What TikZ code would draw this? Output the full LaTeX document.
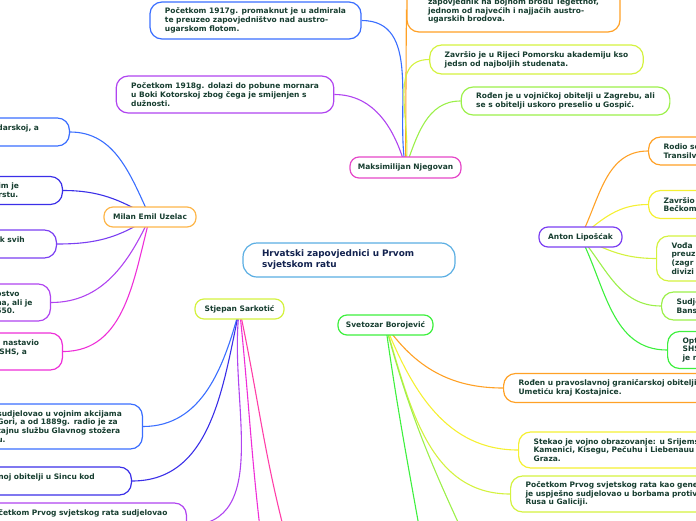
\documentclass[tikz,border=0pt]{standalone}
\usepackage{fontspec}
\setmainfont{DejaVu Sans}
\usetikzlibrary{backgrounds}

\definecolor{leaftext}{HTML}{173E30}
\definecolor{titletext}{HTML}{12224F}
\definecolor{titleline}{HTML}{5AAEE3}
\definecolor{cblue}{HTML}{3A6EFF}
\definecolor{cindigo}{HTML}{3B2FE8}
\definecolor{cviolet}{HTML}{7B3FF2}
\definecolor{cpurple}{HTML}{B044F0}
\definecolor{cmagenta}{HTML}{EE2FD8}
\definecolor{cpink}{HTML}{FF3FA8}
\definecolor{corange}{HTML}{FFA126}
\definecolor{cpeach}{HTML}{FDB64A}
\definecolor{cyellow}{HTML}{F5F032}
\definecolor{cyelgreen}{HTML}{D4F23F}
\definecolor{clime}{HTML}{9CF04A}
\definecolor{cgreen}{HTML}{3EF03E}
\definecolor{cnjeg}{HTML}{E547C8}

\begin{document}
\begin{tikzpicture}[x=1pt, y=1pt,
    leaf/.style={draw=#1, fill=white, line width=1.2pt, rounded corners=12pt, align=left, inner xsep=15pt, inner ysep=0pt, text=leaftext, font=\fontsize{7.5}{8.8}\selectfont\bfseries},
    topic/.style={draw=#1, fill=white, line width=1.2pt, rounded corners=9pt, minimum height=20pt, inner sep=0pt, text=leaftext, font=\fontsize{7.5}{8.8}\selectfont\bfseries},
    branch/.style={draw=#1, line width=1.1pt}
]
    \useasboundingbox (0,0) rectangle (696,-520);

    % Central topic
    \node[draw=titleline, fill=white, line width=1.2pt, rounded corners=14pt, align=left, text width=174pt, inner xsep=19pt, minimum height=34pt, text=titletext, font=\fontsize{8.9}{11}\selectfont\bfseries] (title) at (349,-260) {Hrvatski zapovjednici u Prvom\\svjetskom ratu};

    % Main topics
    \node[topic=cnjeg, minimum width=111pt, minimum height=21pt] (njegovan) at (405.5,-167.5) {Maksimilijan Njegovan};
    \node[topic=cpeach, minimum width=92pt] (uzelac) at (150,-217) {Milan Emil Uzelac};
    \node[topic=cviolet, minimum width=83pt] (liposcak) at (580.5,-237) {Anton Lipošćak};
    \node[topic=cyelgreen, minimum width=89pt] (sarkotic) at (239.5,-309) {Stjepan Sarkotić};
    \node[topic=cgreen, minimum width=95pt] (borojevic) at (385.5,-325) {Svetozar Borojević};

    % Njegovan
    \node[leaf=cblue, minimum width=209pt, minimum height=37pt] (njeg1) at (255.5,-20.5) {Početkom 1917g. promaknut je u admirala\\te preuzeo zapovjedništvo nad austro-\\ugarskom flotom.};
    \node[leaf=corange, minimum width=213pt, minimum height=45pt] (njeg2) at (513.5,-9.5) {\mbox{}\\zapovjednik na bojnom brodu Tegetthof,\\jednom od najvećih i najjačih austro-\\ugarskih brodova.};
    \node[leaf=cyelgreen, minimum width=207pt, minimum height=29pt] (njeg3) at (536.5,-59.5) {Završio je u Rijeci Pomorsku akademiju kso\\jedsn od najboljih studenata.};
    \node[leaf=clime, minimum width=207pt, minimum height=28pt] (njeg4) at (565.5,-101) {Rođen je u vojničkoj obitelji u Zagrebu, ali\\se s obitelji uskoro preselio u Gospić.};
    \node[leaf=cpurple, minimum width=196pt, minimum height=37pt] (njeg5) at (225,-94.5) {Početkom 1918g. dolazi do pobune mornara\\u Boki Kotorskoj zbog čega je  smijenjen s\\dužnosti.};

    % Uzelac
    \node[leaf=cblue, anchor=east, text width=57pt, minimum height=28pt] (uz1) at (70,-132) {darskoj, a\\\mbox{}};
    \node[leaf=cindigo, anchor=east, text width=49pt, minimum height=28pt] (uz2) at (63,-190.5) {im je\\rstu.};
    \node[leaf=cviolet, anchor=east, text width=44pt, minimum height=28pt] (uz3) at (57,-244) {ik svih\\\mbox{}};
    \node[leaf=cpurple, anchor=east, text width=39pt, minimum height=37pt] (uz4) at (51,-302.5) {ostvo\\na, ali je\\550.};
    \node[leaf=cmagenta, anchor=east, text width=52pt, minimum height=37pt] (uz5) at (63,-351.5) {e nastavio\\\hspace*{4pt}SHS, a\\\mbox{}};

    % Liposcak
    \node[leaf=corange, anchor=west, text width=215pt, minimum height=28pt] (lip1) at (648,-151) {Rodio se\\Transilva};
    \node[leaf=cyellow, anchor=west, text width=215pt, minimum height=28pt] (lip2) at (648,-204.5) {Završio j\\Bečkom};
    \node[leaf=cyelgreen, anchor=west, text width=215pt, minimum height=45pt] (lip3) at (656,-258.5) {Vođa\\preuz\\(zagr\\divizi};
    \node[leaf=clime, anchor=west, text width=215pt, minimum height=28pt] (lip4) at (661,-306) {Sudje\\Bans};
    \node[leaf=cgreen, anchor=west, text width=215pt, minimum height=37pt] (lip5) at (667,-350) {Opt\\SHS\\je n};

    % Sarkotic
    \node[leaf=cblue, anchor=east, text width=130pt, minimum height=45pt] (sar1) at (143,-426.5) {sudjelovao u vojnim akcijama\\Gori, a od 1889g. radio je za\\tajnu službu Glavnog stožera\\u.};
    \node[leaf=cindigo, anchor=east, text width=118pt, minimum height=28pt] (sar2) at (132,-481) {noj obitelji u Sincu kod\\\mbox{}};
    \node[leaf=cpurple, anchor=east, text width=178pt, minimum height=45pt] (sar3) at (187,-525.5) {očetkom Prvog svjetskog rata sudjelovao\\\mbox{}\\\mbox{}\\\mbox{}};
    \coordinate (sar4) at (262,-545);
    \coordinate (sar5) at (288,-545);

    % Borojevic
    \node[leaf=corange, anchor=west, text width=215pt, minimum height=29pt] (bor1) at (503,-388) {Rođen u pravoslavnoj graničarskoj obitelji u\\Umetiću kraj Kostajnice.};
    \node[leaf=cyellow, anchor=west, text width=215pt, minimum height=36pt] (bor2) at (518,-450) {Stekao je vojno obrazovanje: u Srijemskoj\\Kamenici, Kisegu, Pečuhu i Liebenauu kod\\Graza.};
    \node[leaf=cyelgreen, anchor=west, text width=215pt, minimum height=36pt] (bor3) at (510,-494) {Početkom Prvog svjetskog rata kao general\\je uspješno sudjelovao u borbama protiv\\Rusa u Galiciji.};
    \coordinate (bor4) at (425,-560);
    \coordinate (bor5) at (470,-548);

    % Branches
    \begin{pgfonlayer}{background}
    \draw[branch=cblue] (njeg1.east) to[out=0, in=100] (njegovan.center);
    \draw[branch=corange] (njeg2.west) -- (njegovan.center);
    \draw[branch=cyelgreen] (njeg3.west) to[out=180, in=80] (njegovan.center);
    \draw[branch=clime] (njeg4.west) to[out=180, in=70] (njegovan.center);
    \draw[branch=cpurple] (njeg5.east) to[out=0, in=105] (njegovan.center);

    \draw[branch=cblue] (uz1.east) to[out=0, in=115] (uzelac.center);
    \draw[branch=cindigo] (uz2.east) to[out=0, in=150] (uzelac.center);
    \draw[branch=cviolet] (uz3.east) to[out=0, in=214] (uzelac.center);
    \draw[branch=cpurple] (uz4.east) to[out=0, in=245] (uzelac.center);
    \draw[branch=cmagenta] (uz5.east) to[out=0, in=255] (uzelac.center);

    \draw[branch=corange] (lip1.west) to[out=180, in=63] (liposcak.center);
    \draw[branch=cyellow] (lip2.west) to[out=180, in=40] (liposcak.center);
    \draw[branch=cyelgreen] (lip3.west) to[out=180, in=333] (liposcak.center);
    \draw[branch=clime] (lip4.west) to[out=180, in=310] (liposcak.center);
    \draw[branch=cgreen] (lip5.west) to[out=180, in=297] (liposcak.center);

    \draw[branch=cblue] (sar1.east) to[out=0, in=255] (sarkotic.center);
    \draw[branch=cindigo] (sar2.east) to[out=0, in=258] (sarkotic.center);
    \draw[branch=cpurple] (sar3.east) to[out=0, in=262] (sarkotic.center);
    \draw[branch=cmagenta] (sarkotic.center) to[out=-84, in=97] (sar4);
    \draw[branch=cpink] (sarkotic.center) to[out=-78, in=105] (sar5);

    \draw[branch=corange] (bor1.west) to[out=180, in=305] (borojevic.center);
    \draw[branch=cyellow] (bor2.west) to[out=180, in=292] (borojevic.center);
    \draw[branch=cyelgreen] (bor3.west) to[out=180, in=287] (borojevic.center);
    \draw[branch=cgreen] (borojevic.center) to[out=-82, in=100] (bor4);
    \draw[branch=clime] (borojevic.center) to[out=-75, in=115] (bor5);
    \end{pgfonlayer}

\end{tikzpicture}
\end{document}
